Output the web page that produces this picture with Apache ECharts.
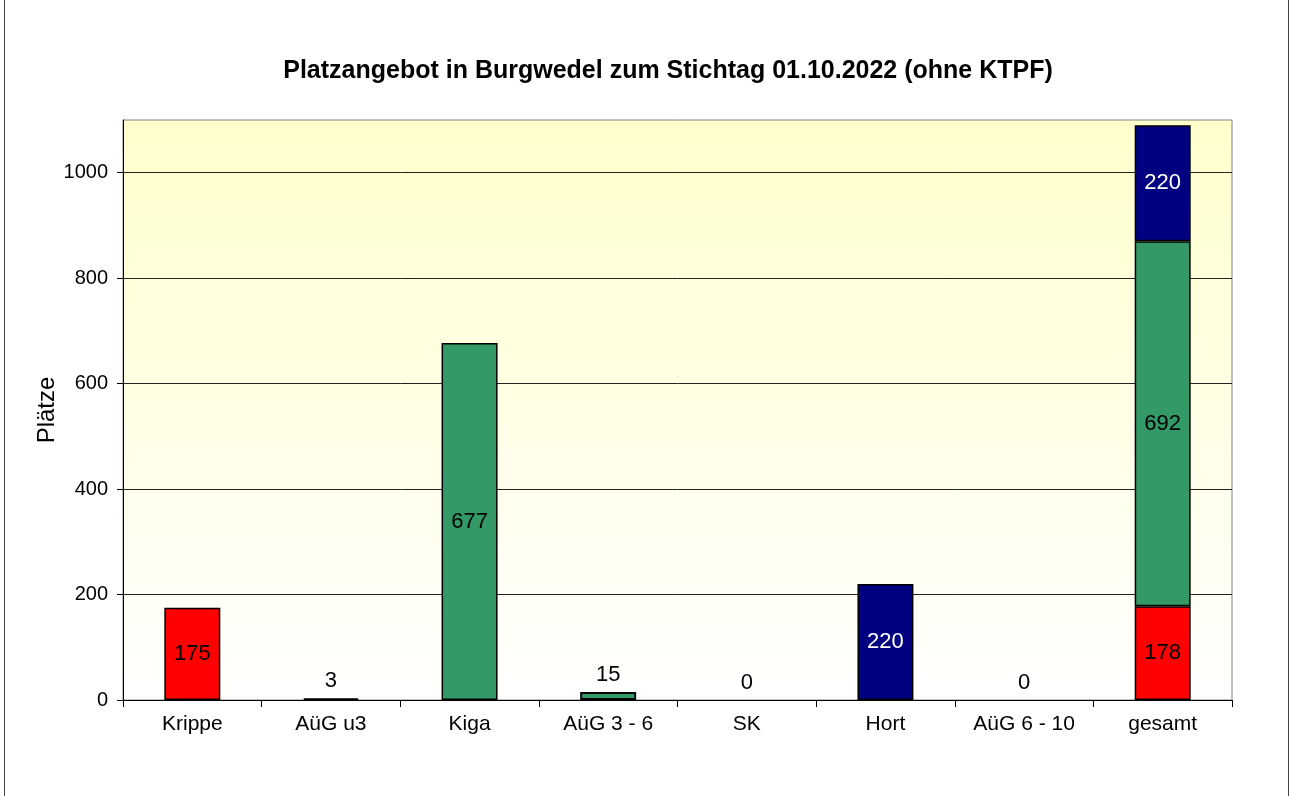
<!DOCTYPE html>
<html>
<head>
<meta charset="utf-8">
<script src="https://cdn.jsdelivr.net/npm/echarts@6/dist/echarts.min.js"></script>
<style>
  html, body { margin: 0; padding: 0; background: #fff; }
  #chart { width: 1290px; height: 796px; }
  .edge { position: absolute; top: 0; width: 1px; height: 796px; background: #444; }
</style>
</head>
<body>
<div id="chart"></div>
<div class="edge" style="left:4px"></div>
<div class="edge" style="left:1288px"></div>
<script>
// Kategorien und Werte (Plätze)
const categories = ['Krippe', 'AüG u3', 'Kiga', 'AüG 3 - 6', 'SK', 'Hort', 'AüG 6 - 10', 'gesamt'];
const u3Values = [175, 3, null, null, null, null, null, 178];
const kigaValues = [null, null, 677, 15, 0, null, null, 692];
const hortValues = [null, null, null, null, null, 220, 0, 220];
const yTicks = [0, 200, 400, 600, 800, 1000];

const chart = echarts.init(document.getElementById('chart'));
const font = 'Liberation Sans, Arial, sans-serif';

// kleine Werte: Beschriftung oberhalb des Balkens
const mkData = (arr) => arr.map(v => {
  if (v === null) return '-';
  if (v < 50) return { value: v, label: { position: 'top', color: '#000' }, itemStyle: v === 0 ? { borderWidth: 0 } : { borderWidth: 2 } };
  return v;
});

const mkSeries = (name, arr, color, labelColor) => ({
  name: name,
  type: 'bar',
  stack: 'total',
  data: mkData(arr),
  barWidth: 56,
  itemStyle: { color: color, borderColor: '#000', borderWidth: 1.5 },
  label: { show: true, position: 'inside', color: labelColor, fontSize: 22, fontFamily: font, distance: 6 }
});

chart.setOption({
  animation: false,
  title: {
    text: 'Platzangebot in Burgwedel zum Stichtag 01.10.2022 (ohne KTPF)',
    left: 663,
    top: 54,
    textAlign: 'center',
    textStyle: { fontSize: 25, fontWeight: 'bold', fontFamily: font, color: '#000' }
  },
  grid: {
    left: 123, right: 58, top: 120, bottom: 96,
    show: true,
    borderColor: '#808080',
    borderWidth: 1,
    backgroundColor: new echarts.graphic.LinearGradient(0, 0, 0, 1, [
      { offset: 0, color: '#FFFFCC' },
      { offset: 1, color: '#FFFFFF' }
    ])
  },
  xAxis: {
    type: 'category',
    data: categories,
    axisLine: { lineStyle: { color: '#000', width: 1 } },
    axisTick: { show: true, length: 7, lineStyle: { color: '#000' } },
    axisLabel: { color: '#000', fontSize: 21, fontFamily: font, margin: 14 }
  },
  yAxis: {
    type: 'value',
    min: 0,
    max: 1100,
    interval: 200,
    name: 'Plätze',
    nameLocation: 'middle',
    nameGap: 64,
    nameMoveOverlap: false,
    nameTextStyle: { fontSize: 24, fontFamily: font, color: '#000' },
    axisLine: { show: true, lineStyle: { color: '#000' } },
    axisTick: { show: true, length: 6, customValues: yTicks, lineStyle: { color: '#000' } },
    axisLabel: {
      color: '#000', fontSize: 20, fontFamily: font, margin: 15,
      customValues: yTicks,
      formatter: v => String(v)
    },
    splitLine: { show: true, lineStyle: { color: '#222', width: 1 } }
  },
  series: [
    mkSeries('u3', u3Values, '#FF0000', '#000'),
    mkSeries('3-6', kigaValues, '#339966', '#000'),
    mkSeries('6-10', hortValues, '#000080', '#fff')
  ]
});
</script>
</body>
</html>
